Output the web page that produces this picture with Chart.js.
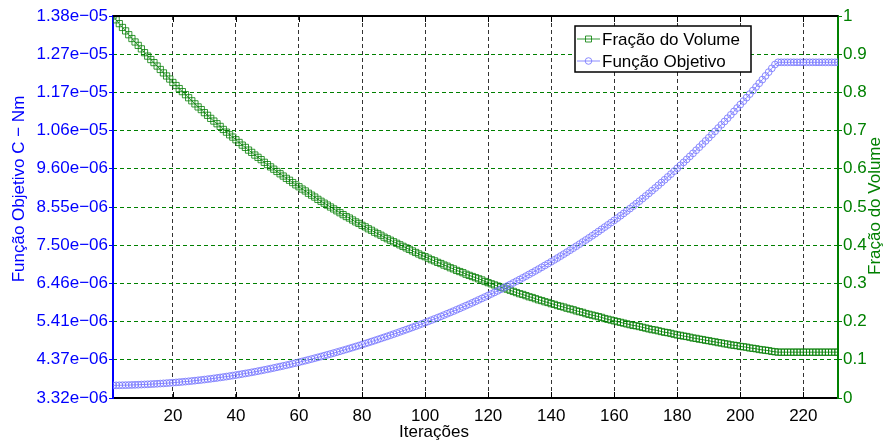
<!DOCTYPE html>
<html>
<head>
<meta charset="utf-8">
<script src="https://cdn.jsdelivr.net/npm/chart.js@4/dist/chart.umd.min.js"></script>
<style>
  html, body { margin: 0; padding: 0; background: #fff; }
  #wrap { width: 884px; height: 442px; }
</style>
</head>
<body>
<div id="wrap"><canvas id="grafico" width="884" height="442"></canvas></div>
<script>
// iterações 1..231
const iteracoes = Array.from({ length: 231 }, (_, i) => i + 1);

// fração do volume (eixo direito)
const fracaoVolume = [
  1.000, 0.990, 0.980, 0.970, 0.961, 0.951, 0.941, 0.932, 0.923, 0.914,
  0.904, 0.895, 0.886, 0.878, 0.869, 0.860, 0.851, 0.843, 0.835, 0.826,
  0.818, 0.810, 0.802, 0.794, 0.786, 0.778, 0.770, 0.762, 0.755, 0.747,
  0.740, 0.732, 0.725, 0.718, 0.711, 0.703, 0.696, 0.689, 0.683, 0.676,
  0.669, 0.662, 0.656, 0.649, 0.643, 0.636, 0.630, 0.624, 0.617, 0.611,
  0.605, 0.599, 0.593, 0.587, 0.581, 0.575, 0.570, 0.564, 0.558, 0.553,
  0.547, 0.542, 0.536, 0.531, 0.526, 0.520, 0.515, 0.510, 0.505, 0.500,
  0.495, 0.490, 0.485, 0.480, 0.475, 0.471, 0.466, 0.461, 0.457, 0.452,
  0.448, 0.443, 0.439, 0.434, 0.430, 0.426, 0.421, 0.417, 0.413, 0.409,
  0.405, 0.401, 0.397, 0.393, 0.389, 0.385, 0.381, 0.377, 0.373, 0.370,
  0.366, 0.362, 0.359, 0.355, 0.352, 0.348, 0.345, 0.341, 0.338, 0.334,
  0.331, 0.328, 0.324, 0.321, 0.318, 0.315, 0.312, 0.309, 0.305, 0.302,
  0.299, 0.296, 0.293, 0.290, 0.288, 0.285, 0.282, 0.279, 0.276, 0.273,
  0.271, 0.268, 0.265, 0.263, 0.260, 0.257, 0.255, 0.252, 0.250, 0.247,
  0.245, 0.242, 0.240, 0.238, 0.235, 0.233, 0.231, 0.228, 0.226, 0.224,
  0.221, 0.219, 0.217, 0.215, 0.213, 0.211, 0.208, 0.206, 0.204, 0.202,
  0.200, 0.198, 0.196, 0.194, 0.192, 0.190, 0.189, 0.187, 0.185, 0.183,
  0.181, 0.179, 0.178, 0.176, 0.174, 0.172, 0.171, 0.169, 0.167, 0.165,
  0.164, 0.162, 0.161, 0.159, 0.157, 0.156, 0.154, 0.153, 0.151, 0.150,
  0.148, 0.147, 0.145, 0.144, 0.142, 0.141, 0.139, 0.138, 0.137, 0.135,
  0.134, 0.133, 0.131, 0.130, 0.129, 0.127, 0.126, 0.125, 0.124, 0.122,
  0.121, 0.120, 0.120, 0.120, 0.120, 0.120, 0.120, 0.120, 0.120, 0.120,
  0.120, 0.120, 0.120, 0.120, 0.120, 0.120, 0.120, 0.120, 0.120, 0.120,
  0.120
];

// função objetivo C (x 1e-6 Nm, eixo esquerdo)
const funcaoObjetivo = [
  3.666, 3.667, 3.669, 3.671, 3.673, 3.675, 3.678, 3.681, 3.684, 3.688,
  3.692, 3.696, 3.701, 3.705, 3.710, 3.716, 3.721, 3.727, 3.734, 3.740,
  3.747, 3.754, 3.762, 3.770, 3.778, 3.787, 3.796, 3.806, 3.815, 3.826,
  3.836, 3.847, 3.859, 3.870, 3.883, 3.895, 3.908, 3.921, 3.935, 3.949,
  3.963, 3.978, 3.993, 4.008, 4.024, 4.040, 4.057, 4.073, 4.091, 4.108,
  4.126, 4.144, 4.163, 4.182, 4.201, 4.220, 4.240, 4.261, 4.281, 4.302,
  4.324, 4.345, 4.367, 4.389, 4.412, 4.435, 4.458, 4.481, 4.505, 4.529,
  4.553, 4.578, 4.603, 4.628, 4.653, 4.679, 4.705, 4.732, 4.758, 4.785,
  4.813, 4.840, 4.868, 4.896, 4.925, 4.954, 4.983, 5.012, 5.042, 5.072,
  5.102, 5.133, 5.164, 5.195, 5.226, 5.258, 5.290, 5.323, 5.355, 5.388,
  5.422, 5.456, 5.490, 5.524, 5.559, 5.595, 5.631, 5.667, 5.703, 5.740,
  5.778, 5.816, 5.854, 5.892, 5.931, 5.971, 6.011, 6.051, 6.091, 6.132,
  6.174, 6.216, 6.258, 6.301, 6.345, 6.389, 6.433, 6.478, 6.524, 6.570,
  6.616, 6.663, 6.711, 6.759, 6.807, 6.856, 6.906, 6.956, 7.006, 7.057,
  7.109, 7.161, 7.214, 7.267, 7.321, 7.375, 7.430, 7.485, 7.541, 7.598,
  7.655, 7.712, 7.770, 7.829, 7.888, 7.948, 8.009, 8.069, 8.131, 8.193,
  8.256, 8.320, 8.384, 8.450, 8.516, 8.584, 8.652, 8.721, 8.791, 8.862,
  8.934, 9.007, 9.081, 9.155, 9.231, 9.307, 9.385, 9.463, 9.542, 9.622,
  9.703, 9.784, 9.866, 9.949, 10.032, 10.117, 10.201, 10.287, 10.373, 10.460,
  10.548, 10.636, 10.726, 10.815, 10.906, 10.997, 11.089, 11.182, 11.275, 11.369,
  11.464, 11.560, 11.657, 11.755, 11.854, 11.954, 12.055, 12.157, 12.260, 12.364,
  12.469, 12.530, 12.530, 12.530, 12.530, 12.530, 12.530, 12.530, 12.530, 12.530,
  12.530, 12.530, 12.530, 12.530, 12.530, 12.530, 12.530, 12.530, 12.530, 12.530,
  12.530
];

const xTicks = [20, 40, 60, 80, 100, 120, 140, 160, 180, 200, 220];
const yEsqTicks = ['3.32e\u221206', '4.37e\u221206', '5.41e\u221206', '6.46e\u221206', '7.50e\u221206',
  '8.55e\u221206', '9.60e\u221206', '1.06e\u221205', '1.17e\u221205', '1.27e\u221205', '1.38e\u221205'];
const yDirTicks = ['0', '0.1', '0.2', '0.3', '0.4', '0.5', '0.6', '0.7', '0.8', '0.9', '1'];

const AZUL = '#0000ff';
const VERDE = '#008000';
const fonte = { family: "'Liberation Sans', Arial, sans-serif", size: 17 };
const fonteCss = "17px 'Liberation Sans', Arial, sans-serif";
const yEsqMin = 3.32e-6, yEsqMax = 1.38e-5;

// moldura, marcas internas, títulos dos eixos e legenda
const molduraPlugin = {
  id: 'moldura',
  afterDraw(chart) {
    const { ctx, chartArea: a, scales } = chart;
    ctx.save();
    ctx.strokeStyle = '#000';
    ctx.lineWidth = 2;
    ctx.beginPath();
    ctx.moveTo(a.left, a.top);
    ctx.lineTo(a.right, a.top);
    ctx.stroke();

    ctx.lineWidth = 1;
    ctx.beginPath();
    xTicks.forEach(v => {
      const px = Math.round(scales.x.getPixelForValue(v)) + 0.5;
      ctx.moveTo(px, a.bottom); ctx.lineTo(px, a.bottom - 6);
      ctx.moveTo(px, a.top); ctx.lineTo(px, a.top + 6);
    });
    ctx.stroke();

    ctx.font = fonteCss;
    ctx.textAlign = 'center';
    ctx.textBaseline = 'middle';
    ctx.fillStyle = '#000';
    ctx.fillText('Iterações', 434, 432);

    ctx.save();
    ctx.translate(19, 189);
    ctx.rotate(-Math.PI / 2);
    ctx.fillStyle = AZUL;
    ctx.fillText('Função Objetivo C \u2212 Nm', 0, 0);
    ctx.restore();

    ctx.save();
    ctx.translate(875, 206);
    ctx.rotate(-Math.PI / 2);
    ctx.fillStyle = VERDE;
    ctx.fillText('Fração do Volume', 0, 0);
    ctx.restore();

    // legenda
    const lx = 575, ly = 26, lw = 176, lh = 46;
    ctx.fillStyle = '#fff';
    ctx.fillRect(lx, ly, lw, lh);
    ctx.strokeStyle = '#000';
    ctx.lineWidth = 1.5;
    ctx.strokeRect(lx, ly, lw, lh);
    ctx.textAlign = 'left';
    chart.data.datasets.forEach((ds, i) => {
      const cy = ly + 13 + i * 22;
      ctx.strokeStyle = ds.borderColor;
      ctx.lineWidth = 1;
      ctx.beginPath();
      ctx.moveTo(lx + 2, cy); ctx.lineTo(lx + 25, cy);
      ctx.stroke();
      ctx.strokeStyle = ds.pointBorderColor;
      ctx.beginPath();
      if (ds.pointStyle === 'rect') ctx.rect(lx + 10.5, cy - 3, 6, 6);
      else ctx.arc(lx + 13.5, cy, 3.3, 0, Math.PI * 2);
      ctx.stroke();
      ctx.fillStyle = '#000';
      ctx.fillText(ds.label, lx + 27, cy + 1);
    });
    ctx.restore();
  }
};

const ctx = document.getElementById('grafico').getContext('2d');
const grafico = new Chart(ctx, {
  type: 'line',
  data: {
    labels: iteracoes,
    datasets: [
      {
        label: 'Fração do Volume',
        data: fracaoVolume,
        yAxisID: 'yDir',
        borderColor: 'rgba(0,125,0,0.8)',
        borderWidth: 1,
        pointStyle: 'rect',
        pointRadius: 4.4,
        pointBorderWidth: 1,
        pointBorderColor: 'rgba(0,125,0,0.8)',
        pointBackgroundColor: 'rgba(0,0,0,0)',
        order: 1
      },
      {
        label: 'Função Objetivo',
        data: funcaoObjetivo.map(v => v * 1e-6),
        yAxisID: 'yEsq',
        borderColor: 'rgba(120,120,255,0.85)',
        borderWidth: 1,
        pointStyle: 'circle',
        pointRadius: 3.4,
        pointBorderWidth: 1,
        pointBorderColor: 'rgba(120,120,255,0.85)',
        pointBackgroundColor: 'rgba(0,0,0,0)',
        order: 0
      }
    ]
  },
  options: {
    responsive: false,
    animation: false,
    devicePixelRatio: 1,
    layout: { padding: { top: 16, left: 0, right: 0, bottom: 0 } },
    elements: { line: { tension: 0 } },
    plugins: {
      legend: { display: false },
      tooltip: { enabled: false }
    },
    scales: {
      x: {
        type: 'linear',
        min: 1,
        max: 231,
        afterBuildTicks: s => { s.ticks = xTicks.map(v => ({ value: v })); },
        afterFit: s => { s.height = 44; },
        ticks: { color: '#000', font: fonte, padding: 8, maxRotation: 0, autoSkip: false, callback: v => String(v) },
        grid: { color: '#333', lineWidth: 1, drawTicks: false },
        border: { color: '#000', width: 2, dash: [4, 3] }
      },
      yEsq: {
        type: 'linear',
        position: 'left',
        min: yEsqMin,
        max: yEsqMax,
        afterBuildTicks: s => {
          s.ticks = yEsqTicks.map((_, i) => ({ value: yEsqMin + i * (yEsqMax - yEsqMin) / (yEsqTicks.length - 1) }));
        },
        afterFit: s => { s.width = 113; },
        ticks: { color: AZUL, font: fonte, padding: 1, autoSkip: false, callback: (v, i) => yEsqTicks[i] },
        grid: { drawOnChartArea: false, tickColor: AZUL, tickLength: 4 },
        border: { color: AZUL, width: 2 }
      },
      yDir: {
        type: 'linear',
        position: 'right',
        min: 0,
        max: 1,
        afterBuildTicks: s => {
          s.ticks = yDirTicks.map(t => ({ value: parseFloat(t) }));
        },
        afterFit: s => { s.width = 46; },
        ticks: { color: VERDE, font: fonte, padding: 1, autoSkip: false, callback: (v, i) => yDirTicks[i] },
        grid: {
          color: c => (c.tick && (c.tick.value === 0 || c.tick.value === 1)) ? 'rgba(0,0,0,0)' : VERDE,
          tickColor: VERDE,
          tickLength: 4,
          lineWidth: 1
        },
        border: { color: VERDE, width: 2, dash: [4, 3] }
      }
    }
  },
  plugins: [molduraPlugin]
});
</script>
</body>
</html>
